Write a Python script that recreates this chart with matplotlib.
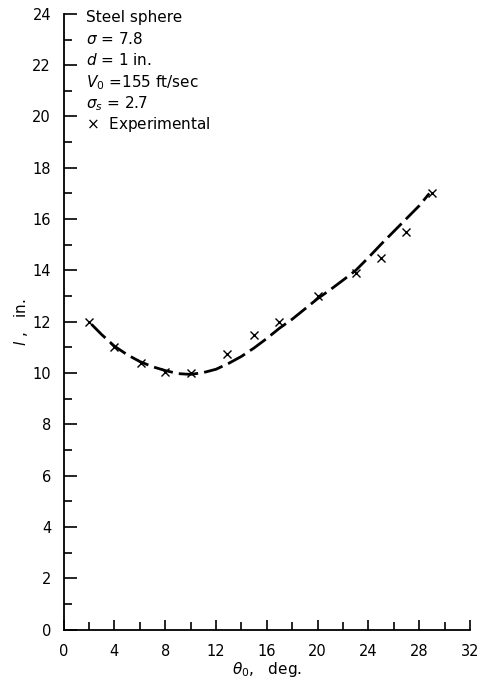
import matplotlib
matplotlib.use("Agg")
from matplotlib import pyplot as plt
from matplotlib.ticker import MultipleLocator

# experimental points
theta_exp = [2, 4, 6.1, 8, 10, 12.9, 15, 17, 20, 23, 25, 27, 29]
l_exp = [12.0, 11.0, 10.4, 10.05, 10.0, 10.75, 11.5, 12.0, 13.0, 13.9, 14.5, 15.5, 17.0]

# theoretical curve
theta_curve = [2.2, 3.0, 4.0, 5.0, 6.0, 7.0, 8.0, 9.0, 10.0, 11.0, 12.0, 13.0, 14.0,
               15.0, 16.0, 17.0, 18.0, 19.0, 20.0, 21.0, 22.0, 23.0, 24.0, 25.0,
               26.0, 27.0, 28.0, 28.8]
l_curve = [11.9, 11.5, 11.05, 10.72, 10.45, 10.25, 10.1, 9.98, 9.95, 10.02, 10.15, 10.38, 10.65,
           10.98, 11.35, 11.75, 12.1, 12.5, 12.9, 13.25, 13.62, 14.0, 14.5, 15.02,
           15.52, 16.02, 16.52, 17.0]

fig = plt.figure(figsize=(4.82, 6.92), dpi=100)
ax = fig.add_axes([0.132, 0.09, 0.843, 0.89])

ax.plot(theta_curve, l_curve, color='black', lw=2.0, dashes=(7, 2.2))
ax.plot(theta_exp, l_exp, 'x', color='black', ms=6, mew=1.0)

ax.set_xlim(0, 32)
ax.set_ylim(0, 24)
ax.xaxis.set_major_locator(MultipleLocator(4))
ax.xaxis.set_minor_locator(MultipleLocator(2))
ax.yaxis.set_major_locator(MultipleLocator(2))
ax.yaxis.set_minor_locator(MultipleLocator(1))
ax.tick_params(which='major', direction='in', length=9, width=1.2, labelsize=10.5)
ax.tick_params(which='minor', direction='in', length=6, width=1.2)
ax.tick_params(axis='x', which='major', length=7, pad=10)
ax.tick_params(axis='x', which='minor', length=6)
ax.tick_params(axis='y', which='major', pad=9)
ax.spines['top'].set_visible(False)
ax.spines['right'].set_visible(False)
ax.spines['left'].set_linewidth(1.3)
ax.spines['bottom'].set_linewidth(1.3)

ax.set_xlabel(r'$\theta_0$,   deg.', fontsize=11, labelpad=1)
ax.set_ylabel(r'$l$ ,   in.', fontsize=11, labelpad=2)

lines = ['Steel sphere', r'$\sigma$ = 7.8', r'$d$ = 1 in.', r'$V_0$ =155 ft/sec',
         r'$\sigma_s$ = 2.7', r'$\times$  Experimental']
for i, t in enumerate(lines):
    ax.text(1.8, 24.15 - i * 0.82, t, fontsize=11, va='top', ha='left')

fig.savefig('out.png', dpi=100)
